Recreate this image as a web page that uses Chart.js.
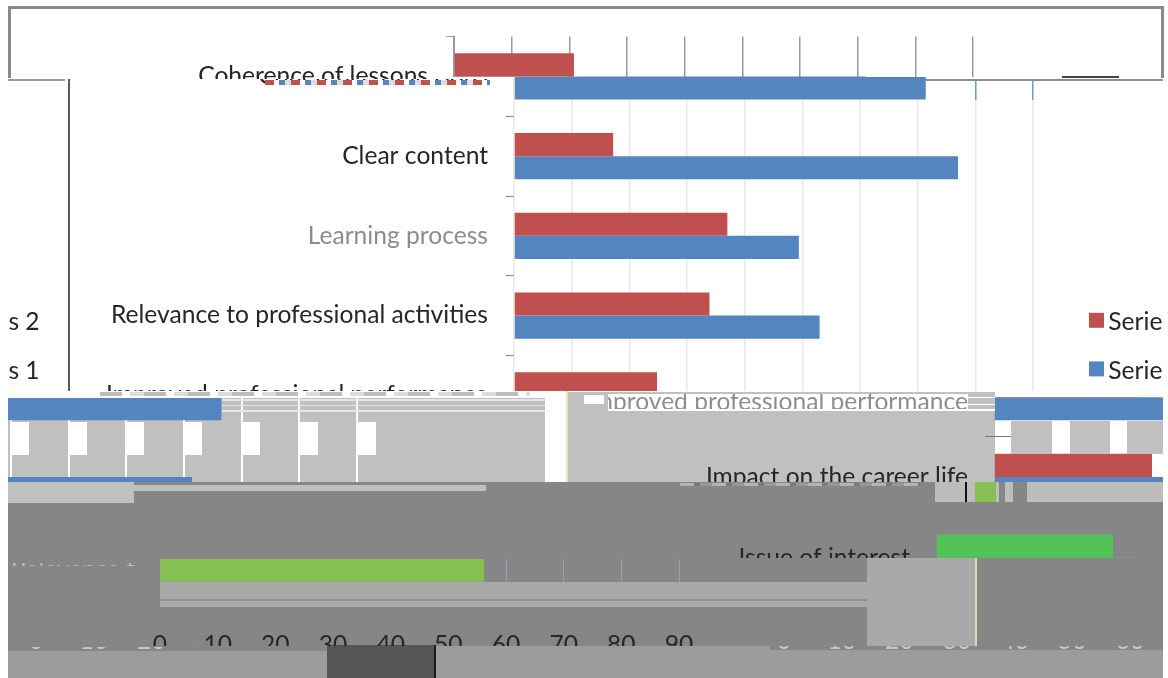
<!DOCTYPE html>
<html>
<head>
<meta charset="utf-8">
<script src="https://cdn.jsdelivr.net/npm/chart.js@4/dist/chart.umd.min.js"></script>
<style>
  html, body { margin: 0; padding: 0; background: #fff; }
  #stage { position: relative; width: 1168px; height: 678px; overflow: hidden; }
  .box, .piece { position: absolute; overflow: hidden; }
  .piece canvas { position: absolute; }
</style>
</head>
<body>
<div id="stage"></div>
<script>
// Chart data
const categories = [
    'Coherence of lessons', 'Clear content', 'Learning process',
    'Relevance to professional activities', 'Improved professional performance',
    'Impact on the career life', 'Issue of interest'
];
const series2Values = [20.8, 17.2, 37, 33.9, 24.8, 27.4, 30.7];
const series1Values = [71.4, 77, 49.4, 53, 66.5, 61.4, 56.2];
const seriesNames = ['Series 2', 'Series 1'];
const xTicks = [0, 10, 20, 30, 40, 50, 60, 70, 80, 90];

const FONT = 'Lato, "Open Sans", sans-serif';
const FONT_SIZE = 24.6;
const VIRTUAL_W = 1300;
const VIRTUAL_H = 700;
const stage = document.getElementById('stage');

// The row of the last category uses green bars instead of the series colour
function barColor(base, highlight) {
    return ctx => (ctx.type === 'data' && ctx.dataIndex === categories.length - 1) ? highlight : base;
}

// Moves the legend to where it sits in the picture, layout never reserves room for it
const legendPlacer = {
    id: 'legendPlacer',
    afterLayout(chart) {
        const legend = chart.legend;
        if (!legend) return;
        legend.left = 1065;
        legend.right = 1300;
        legend.top = 284;
        legend.bottom = 284 + 300;
        legend.width = 235;
        legend.height = 300;
    }
};

// Plain rectangle of the damaged picture
function box(x, y, w, h, background) {
    const el = document.createElement('div');
    el.className = 'box';
    el.style.cssText = `left:${x}px;top:${y}px;width:${w}px;height:${h}px;background:${background}`;
    stage.appendChild(el);
    return el;
}

// One clipped window on the chart, shifted by dx/dy
function piece(x, y, w, h, dx, dy, opts = {}) {
    const el = document.createElement('div');
    el.className = 'piece';
    el.style.cssText = `left:${x}px;top:${y}px;width:${w}px;height:${h}px;background:${opts.bg || 'transparent'}`;
    const canvas = document.createElement('canvas');
    canvas.width = VIRTUAL_W;
    canvas.height = VIRTUAL_H;
    canvas.style.cssText = `left:${dx - x}px;top:${dy - y}px;width:${VIRTUAL_W}px;height:${VIRTUAL_H}px`;
    el.appendChild(canvas);
    stage.appendChild(el);

    const textColor = opts.textColor || '#262626';
    const gridColor = opts.gridColor === undefined ? '#e8e8e8' : opts.gridColor;
    const tickColor = opts.tickColor === undefined ? '#8a8a8a' : opts.tickColor;

    new Chart(canvas, {
        type: 'bar',
        data: {
            labels: categories,
            datasets: [
                {
                    label: seriesNames[0],
                    data: series2Values,
                    backgroundColor: barColor(opts.hideBars ? 'transparent' : '#c0504d', opts.hideBars ? 'transparent' : '#50c256')
                },
                {
                    label: seriesNames[1],
                    data: series1Values,
                    backgroundColor: barColor(opts.hideBars ? 'transparent' : '#5585bf', opts.hideBars ? 'transparent' : '#86bf52')
                }
            ]
        },
        options: {
            indexAxis: 'y',
            responsive: false,
            animation: false,
            devicePixelRatio: 1,
            layout: { padding: { left: 0, top: 36.6, right: VIRTUAL_W - 1033, bottom: 0 } },
            datasets: { bar: { barPercentage: 1, categoryPercentage: 0.58 } },
            plugins: {
                tooltip: { enabled: false },
                legend: {
                    display: !!opts.legend,
                    position: 'chartArea',
                    align: 'start',
                    labels: {
                        boxWidth: 15,
                        boxHeight: 15,
                        padding: 24,
                        color: textColor,
                        font: { family: FONT, size: FONT_SIZE }
                    }
                }
            },
            scales: {
                x: {
                    min: 0,
                    max: 90,
                    afterBuildTicks(scale) { scale.ticks = xTicks.map(v => ({ value: v })); },
                    afterFit(scale) { scale.height = VIRTUAL_H - 594.5; },
                    border: { display: false },
                    grid: { color: gridColor, lineWidth: opts.gridWidth || 1.5, drawTicks: false },
                    ticks: { color: textColor, padding: 8, maxRotation: 0, autoSkip: false, font: { family: FONT, size: FONT_SIZE } }
                },
                y: {
                    afterFit(scale) { scale.width = 514; },
                    border: { display: !opts.noAxisLine && tickColor !== 'transparent', color: tickColor },
                    grid: { drawOnChartArea: false, tickLength: 8, tickColor: tickColor },
                    ticks: {
                        color: opts.labelColors ? (c => opts.labelColors[c.index] || textColor) : textColor,
                        padding: 18,
                        autoSkip: false,
                        font: { family: FONT, size: FONT_SIZE }
                    }
                }
            }
        },
        plugins: [legendPlacer]
    });
}

const plain = { gridColor: 'transparent', tickColor: 'transparent' };
const textOnly = { gridColor: 'transparent', tickColor: 'transparent', hideBars: true };

// Background blocks of the lower part
box(8, 482, 1155, 169, '#868686');
box(327, 645, 108, 33, '#555555');
box(435, 646, 335, 32, '#9c9c9c');
box(770, 650, 393, 28, '#9c9c9c');
box(8, 651, 319, 27, '#9c9c9c');
box(434, 645, 2, 33, '#1c1c1c');

// Top band, shifted 60px to the left
box(8, 6, 1155, 3, '#8a8a8a');
box(8, 6, 3, 72, '#8a8a8a');
box(1161, 6, 3, 72, '#8a8a8a');
piece(11, 9, 1150, 67.7, -60, 0, { gridColor: '#9a9a9a', tickColor: '#9a9a9a' });
piece(190, 76, 264, 3, -60, 0, textOnly);

// Main band
piece(70, 79, 1093, 312, 0, 0, { legend: true, labelColors: { 2: '#8c8c8c' }, noAxisLine: true });
piece(514, 76.7, 420, 3, 0, 0, plain);
piece(960, 79, 90, 21, 0, 0, { gridColor: '#6f9bd0', tickColor: 'transparent', hideBars: true });
box(68, 79, 2, 312, '#5a5a5a');
box(8, 79, 57, 2, '#999999');
box(926, 79, 237, 2, '#8c8c8c');
box(1062, 76, 57, 2, '#444444');
box(265, 80, 225, 5, 'repeating-linear-gradient(90deg,#c0504d 0 9px,#fff 9px 14px,#5585bf 14px 20px,#ddd 20px 26px)');

// Legend text, and what wraps round to the left edge
piece(1105, 300, 58, 85, -8, 2, { bg: '#fff', legend: true, ...textOnly });
piece(9, 305, 42, 80, -1162, 2, { legend: true, ...textOnly });

// Damaged strip under the main band
box(100, 392, 430, 4, 'repeating-linear-gradient(90deg,#bdbdbd 0 22px,#fff 22px 30px,#dcdcdc 30px 44px)');

// Grey middle band, left part (continuation of the right-hand bars)
piece(8, 398, 537, 84, -676, 2, { bg: '#c0c0c0', gridColor: '#ffffff', gridWidth: 2, tickColor: 'transparent' });
[11, 68.5, 126, 184, 241.5, 299.5, 357.5].forEach(x => box(x, 422, 18, 33, '#fff'));
[[399, 1.5], [405, 1], [410, 1.5]].forEach(s => box(222, s[0], 323, s[1], '#e6e6e6'));
box(545, 391, 22, 91, '#fff');
box(566, 391, 1.5, 91, '#e8e6a8');

// Grey middle band, centre
box(567.5, 392, 427.5, 90, '#c0c0c0');
piece(567.5, 410, 427.5, 72, 480, 2, plain);
box(584, 395, 20, 9, '#fff');
box(608, 394, 360, 15, '#fff');
piece(608, 394, 360, 15, 480, 7, { textColor: '#8e8e8e', ...textOnly });
box(968, 397, 27, 1, '#fff');
box(968, 404, 27, 1, '#fff');
box(608, 409, 387, 1.5, '#fff');

// Grey middle band, right part
piece(995, 397, 168, 85, 480, 2, { bg: '#fff', gridColor: '#ffffff', tickColor: 'transparent' });
[[1011, 41], [1070, 40], [1127, 36]].forEach(b => box(b[0], 421, b[1], 32.5, '#c0c0c0'));
box(985, 436, 26, 1, '#777777');

// Row under the band
box(8, 482, 126, 20.5, '#c0c0c0');
box(134, 485, 352, 6, '#c0c0c0');
box(680, 483, 240, 3, 'repeating-linear-gradient(90deg,#b4b4b4 0 14px,#7a7a7a 14px 20px,#989898 20px 32px)');
box(935, 482, 228, 19.5, '#bdbdbd');
box(999, 482, 6, 19.5, '#868686');
box(1013, 482, 14, 19.5, '#868686');
box(965, 482, 2, 19.5, '#111111');
piece(975, 482, 21, 19.5, 400, -74, plain);

// Dark band: the green bars with their label
piece(735, 530, 401, 28, 422, 2.5, plain);
box(867, 558, 108, 88, '#a9a9a9');
box(975, 558, 1.5, 88, '#dcdcb0');
box(160, 582, 707, 25, '#a9a9a9');
box(160, 599, 707, 1.5, '#8f8f8f');
piece(160, 559, 707, 23, -354, 4, { gridColor: '#9d9db0', gridWidth: 1, tickColor: 'transparent' });

// Axis numbers, and the ghost of them further down
piece(140, 625, 560, 21, -354, 28, textOnly);
piece(8, 647, 190, 4, -478, 24, { textColor: '#c8c8c8', ...textOnly });
piece(770, 646, 390, 4, 270, 24, { textColor: '#c8c8c8', ...textOnly });
piece(8, 563, 130, 3, -100, 255, { textColor: '#b8b8b8', ...textOnly });
piece(1125, 561, 38, 3, 640, 253, { textColor: '#b8b8b8', ...textOnly });
</script>
</body>
</html>
